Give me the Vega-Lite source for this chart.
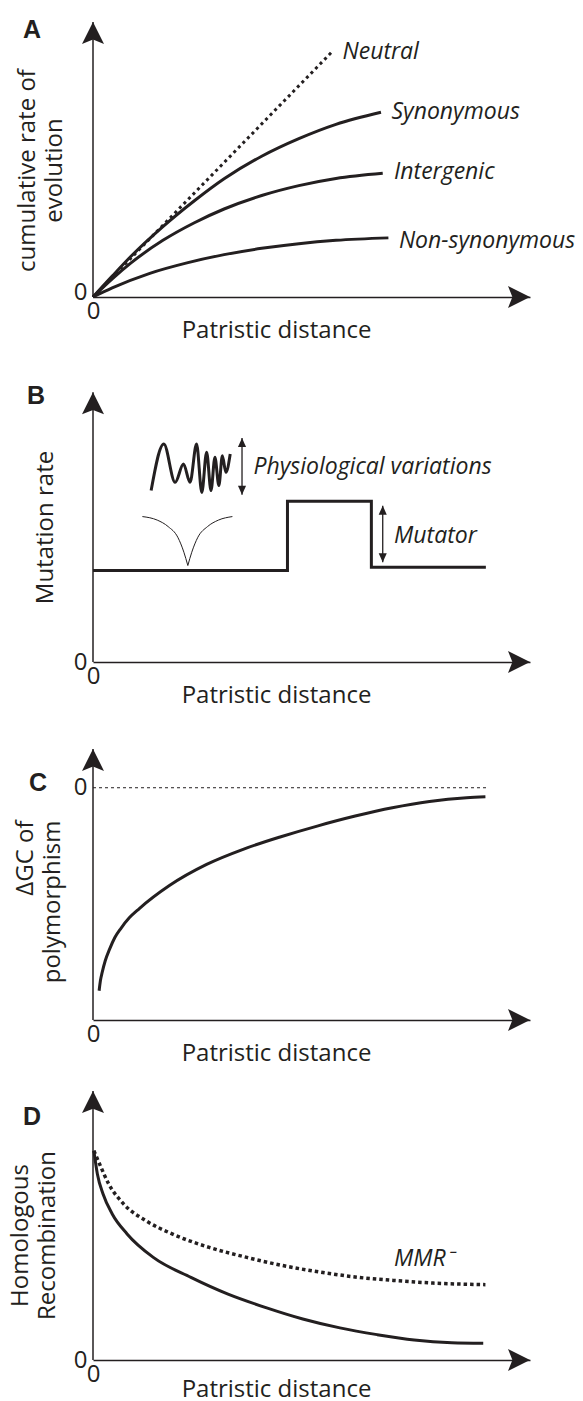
{
  "$schema": "https://vega.github.io/schema/vega-lite/v6.json",
  "autosize": {"type": "pad"},
  "padding": {"left": 8, "top": 18, "right": 0, "bottom": 4},
  "background": "white",
  "spacing": 70,
  "bounds": "flush",
  "config": {
    "view": {"stroke": null},
    "font": "Open Sans",
    "axis": {
      "grid": false, "ticks": false, "labelFontSize": 24, "labelColor": "#231f20",
      "titleColor": "#231f20", "titleFontSize": 24, "titleFontWeight": "normal",
      "labelFlush": false, "labelFont": "Open Sans", "titleFont": "Open Sans",
      "domainColor": "#231f20", "domainWidth": 1.5, "labelOverlap": false
    },
    "axisX": {"domain": true, "labelPadding": 2, "titleBaseline": "alphabetic", "titleAlign": "center", "labelAngle": 0},
    "axisY": {"domain": false, "labelPadding": 6, "labelBaseline": "middle", "titleAngle": -90, "titleAlign": "center", "titleBaseline": "top", "titleLineHeight": 27},
    "title": {"font": "Liberation Sans", "fontWeight": "bold", "fontSize": 25, "color": "#231f20", "anchor": "start", "frame": "group", "offset": 0, "baseline": "top"},
    "text": {"font": "Open Sans", "fontStyle": "italic", "fontSize": 23, "align": "left", "baseline": "middle", "color": "#231f20"}
  },
  "datasets": {
    "a": [
      {"k": "yaxis", "x": 0, "y": 0, "y2": 100},
      {"k": "yarrow", "x": 0, "y": 100},
      {"k": "xarrow", "x": 100, "y": 0},
      {"k": "neutral", "s": "Neutral", "x": 0, "y": 0},
      {"k": "neutral", "s": "Neutral", "x": 54.9, "y": 89.5},
      {"k": "curve", "s": "Synonymous", "x": 0, "y": 0},
      {"k": "curve", "s": "Synonymous", "x": 4.4, "y": 7.6},
      {"k": "curve", "s": "Synonymous", "x": 8.7, "y": 14.8},
      {"k": "curve", "s": "Synonymous", "x": 16.0, "y": 25.6},
      {"k": "curve", "s": "Synonymous", "x": 23.2, "y": 35.0},
      {"k": "curve", "s": "Synonymous", "x": 30.0, "y": 43.0},
      {"k": "curve", "s": "Synonymous", "x": 38.6, "y": 51.2},
      {"k": "curve", "s": "Synonymous", "x": 47.1, "y": 57.6},
      {"k": "curve", "s": "Synonymous", "x": 55.6, "y": 62.8},
      {"k": "curve", "s": "Synonymous", "x": 65.9, "y": 67.2},
      {"k": "curve", "s": "Intergenic", "x": 0, "y": 0},
      {"k": "curve", "s": "Intergenic", "x": 4.4, "y": 6.6},
      {"k": "curve", "s": "Intergenic", "x": 8.7, "y": 12.4},
      {"k": "curve", "s": "Intergenic", "x": 16.0, "y": 20.6},
      {"k": "curve", "s": "Intergenic", "x": 23.2, "y": 27.0},
      {"k": "curve", "s": "Intergenic", "x": 30.0, "y": 32.0},
      {"k": "curve", "s": "Intergenic", "x": 38.6, "y": 36.9},
      {"k": "curve", "s": "Intergenic", "x": 47.1, "y": 40.5},
      {"k": "curve", "s": "Intergenic", "x": 55.6, "y": 43.1},
      {"k": "curve", "s": "Intergenic", "x": 66.3, "y": 45.0},
      {"k": "curve", "s": "Non-synonymous", "x": 0, "y": 0},
      {"k": "curve", "s": "Non-synonymous", "x": 4.4, "y": 3.3},
      {"k": "curve", "s": "Non-synonymous", "x": 13.0, "y": 8.6},
      {"k": "curve", "s": "Non-synonymous", "x": 21.5, "y": 12.4},
      {"k": "curve", "s": "Non-synonymous", "x": 30.0, "y": 15.4},
      {"k": "curve", "s": "Non-synonymous", "x": 38.6, "y": 17.7},
      {"k": "curve", "s": "Non-synonymous", "x": 47.1, "y": 19.4},
      {"k": "curve", "s": "Non-synonymous", "x": 55.6, "y": 20.6},
      {"k": "curve", "s": "Non-synonymous", "x": 67.6, "y": 21.5},
      {"k": "label", "t": "Neutral", "x": 57.1, "y": 89.0},
      {"k": "label", "t": "Synonymous", "x": 68.3, "y": 67.2},
      {"k": "label", "t": "Intergenic", "x": 68.9, "y": 45.3},
      {"k": "label", "t": "Non-synonymous", "x": 70.0, "y": 20.5}
    ],
    "b": [
      {"k": "yaxis", "x": 0, "y": 0, "y2": 91.4},
      {"k": "yarrow", "x": 0, "y": 91.4},
      {"k": "xarrow", "x": 100, "y": 0},
      {"k": "step", "i": 1, "x": 0, "y": 31.0},
      {"k": "step", "i": 2, "x": 44.5, "y": 31.0},
      {"k": "step", "i": 3, "x": 44.5, "y": 54.5},
      {"k": "step", "i": 4, "x": 63.7, "y": 54.5},
      {"k": "step", "i": 5, "x": 63.7, "y": 32.1},
      {"k": "step", "i": 6, "x": 89.9, "y": 32.1},
      {"k": "wiggle", "x": 13.3, "y": 58.1},
      {"k": "wiggle", "x": 16.2, "y": 73.9},
      {"k": "wiggle", "x": 18.8, "y": 60.9},
      {"k": "wiggle", "x": 20.7, "y": 67.1},
      {"k": "wiggle", "x": 22.2, "y": 60.9},
      {"k": "wiggle", "x": 23.7, "y": 73.9},
      {"k": "wiggle", "x": 24.9, "y": 57.5},
      {"k": "wiggle", "x": 26.0, "y": 71.1},
      {"k": "wiggle", "x": 27.0, "y": 58.1},
      {"k": "wiggle", "x": 27.9, "y": 69.4},
      {"k": "wiggle", "x": 28.8, "y": 59.8},
      {"k": "wiggle", "x": 29.6, "y": 69.9},
      {"k": "wiggle", "x": 30.4, "y": 64.3},
      {"k": "wiggle", "x": 31.4, "y": 70.5},
      {"k": "arc", "s": "left", "x": 11.3, "y": 49.3},
      {"k": "arc", "s": "left", "x": 14.7, "y": 48.1},
      {"k": "arc", "s": "left", "x": 17.2, "y": 45.9},
      {"k": "arc", "s": "left", "x": 19.4, "y": 42.3},
      {"k": "arc", "s": "left", "x": 20.8, "y": 37.2},
      {"k": "arc", "s": "left", "x": 21.7, "y": 32.7},
      {"k": "arc", "s": "right", "x": 21.7, "y": 32.7},
      {"k": "arc", "s": "right", "x": 22.6, "y": 37.2},
      {"k": "arc", "s": "right", "x": 24.0, "y": 42.3},
      {"k": "arc", "s": "right", "x": 26.2, "y": 45.9},
      {"k": "arc", "s": "right", "x": 28.7, "y": 48.1},
      {"k": "arc", "s": "right", "x": 31.9, "y": 49.3},
      {"k": "dbl", "x": 34.1, "y": 56.7, "y2": 75.9},
      {"k": "up", "x": 34.1, "y": 75.9},
      {"k": "down", "x": 34.1, "y": 56.7},
      {"k": "dbl", "x": 66.3, "y": 33.8, "y2": 53.0},
      {"k": "up", "x": 66.3, "y": 53.0},
      {"k": "down", "x": 66.3, "y": 33.8},
      {"k": "label", "t": "Physiological variations", "x": 36.7, "y": 66.2},
      {"k": "label", "t": "Mutator", "x": 68.9, "y": 42.8}
    ],
    "c": [
      {"k": "yaxis", "x": 0, "y": -100, "y2": 16.7},
      {"k": "yarrow", "x": 0, "y": 16.7},
      {"k": "xarrow", "x": 100, "y": -100},
      {"k": "zero", "x": 0, "y": 0},
      {"k": "zero", "x": 90.6, "y": 0},
      {"k": "curve", "x": 1.4, "y": -87.4},
      {"k": "curve", "x": 1.7, "y": -83.0},
      {"k": "curve", "x": 2.1, "y": -79.5},
      {"k": "curve", "x": 2.8, "y": -74.5},
      {"k": "curve", "x": 3.8, "y": -69.5},
      {"k": "curve", "x": 5.0, "y": -64.5},
      {"k": "curve", "x": 6.4, "y": -60.5},
      {"k": "curve", "x": 8.3, "y": -56.0},
      {"k": "curve", "x": 10.6, "y": -52.0},
      {"k": "curve", "x": 17.4, "y": -42.2},
      {"k": "curve", "x": 26.0, "y": -33.0},
      {"k": "curve", "x": 34.5, "y": -26.4},
      {"k": "curve", "x": 43.0, "y": -21.1},
      {"k": "curve", "x": 51.5, "y": -16.4},
      {"k": "curve", "x": 60.0, "y": -12.2},
      {"k": "curve", "x": 68.5, "y": -8.6},
      {"k": "curve", "x": 77.0, "y": -5.9},
      {"k": "curve", "x": 85.5, "y": -4.3},
      {"k": "curve", "x": 89.8, "y": -3.9}
    ],
    "d": [
      {"k": "yaxis", "x": 0, "y": 0, "y2": 99.6},
      {"k": "yarrow", "x": 0, "y": 99.6},
      {"k": "xarrow", "x": 100, "y": 0},
      {"k": "solid", "x": 0.2, "y": 77.5},
      {"k": "solid", "x": 1.0, "y": 68.9},
      {"k": "solid", "x": 2.3, "y": 61.5},
      {"k": "solid", "x": 4.4, "y": 54.1},
      {"k": "solid", "x": 7.8, "y": 46.7},
      {"k": "solid", "x": 13.8, "y": 38.0},
      {"k": "solid", "x": 22.4, "y": 30.6},
      {"k": "solid", "x": 30.9, "y": 24.4},
      {"k": "solid", "x": 39.4, "y": 19.5},
      {"k": "solid", "x": 48.0, "y": 15.2},
      {"k": "solid", "x": 56.5, "y": 11.9},
      {"k": "solid", "x": 65.0, "y": 9.4},
      {"k": "solid", "x": 73.5, "y": 7.4},
      {"k": "solid", "x": 82.1, "y": 6.4},
      {"k": "solid", "x": 89.3, "y": 6.2},
      {"k": "dotted", "x": 0.2, "y": 77.5},
      {"k": "dotted", "x": 1.5, "y": 72.6},
      {"k": "dotted", "x": 3.6, "y": 65.2},
      {"k": "dotted", "x": 7.0, "y": 57.8},
      {"k": "dotted", "x": 12.1, "y": 51.6},
      {"k": "dotted", "x": 18.1, "y": 46.7},
      {"k": "dotted", "x": 26.6, "y": 41.7},
      {"k": "dotted", "x": 35.2, "y": 38.0},
      {"k": "dotted", "x": 43.7, "y": 34.9},
      {"k": "dotted", "x": 52.2, "y": 32.5},
      {"k": "dotted", "x": 60.8, "y": 30.6},
      {"k": "dotted", "x": 69.3, "y": 29.4},
      {"k": "dotted", "x": 77.8, "y": 28.5},
      {"k": "dotted", "x": 89.8, "y": 27.9},
      {"k": "label", "t": "MMR⁻", "x": 68.9, "y": 37.4}
    ]
  },
  "vconcat": [
    {
      "width": 437, "height": 275,
      "title": {"text": "A", "dx": -70, "dy": 26},
      "data": {"name": "a"},
      "encoding": {
        "x": {"field": "x", "type": "quantitative", "scale": {"domain": [0, 100], "nice": false, "zero": false},
              "axis": {"title": "Patristic distance", "values": [0], "titleX": 183, "titleY": 40}},
        "y": {"field": "y", "type": "quantitative", "scale": {"domain": [0, 100], "nice": false, "zero": false},
              "axis": {"title": ["cumulative rate of", "evolution"], "values": [0], "labelOffset": -5, "titleX": -78, "titleY": 148}}
      },
      "layer": [
        {"transform": [{"filter": "datum.k == 'yaxis'"}], "mark": {"type": "rule", "strokeWidth": 1.5, "color": "#231f20"}, "encoding": {"y2": {"field": "y2"}}},
        {"transform": [{"filter": "datum.k == 'yarrow'"}], "mark": {"type": "point", "shape": "M0,0L0.5,1L0,0.8L-0.5,1Z", "size": 1936, "filled": true, "opacity": 1, "color": "#231f20", "strokeWidth": 0}},
        {"transform": [{"filter": "datum.k == 'xarrow'"}], "mark": {"type": "point", "shape": "M0,0L-1,0.5L-0.8,0L-1,-0.5Z", "size": 1936, "filled": true, "opacity": 1, "color": "#231f20", "strokeWidth": 0}},
        {"transform": [{"filter": "datum.k == 'neutral'"}], "mark": {"type": "line", "strokeWidth": 3, "strokeDash": [3, 3.5], "color": "#231f20"}},
        {"transform": [{"filter": "datum.k == 'curve'"}], "mark": {"type": "line", "interpolate": "monotone", "strokeWidth": 3, "color": "#231f20"}, "encoding": {"detail": {"field": "s"}}},
        {"transform": [{"filter": "datum.k == 'label'"}], "mark": {"type": "text"}, "encoding": {"text": {"field": "t"}}}
      ]
    },
    {
      "width": 437, "height": 295,
      "title": {"text": "B", "dx": -66, "dy": 46},
      "data": {"name": "b"},
      "encoding": {
        "x": {"field": "x", "type": "quantitative", "scale": {"domain": [0, 100], "nice": false, "zero": false},
              "axis": {"title": "Patristic distance", "values": [0], "titleX": 183, "titleY": 40}},
        "y": {"field": "y", "type": "quantitative", "scale": {"domain": [0, 100], "nice": false, "zero": false},
              "axis": {"title": "Mutation rate", "values": [0], "titleX": -60, "titleY": 160}}
      },
      "layer": [
        {"transform": [{"filter": "datum.k == 'yaxis'"}], "mark": {"type": "rule", "strokeWidth": 1.5, "color": "#231f20"}, "encoding": {"y2": {"field": "y2"}}},
        {"transform": [{"filter": "datum.k == 'yarrow'"}], "mark": {"type": "point", "shape": "M0,0L0.5,1L0,0.8L-0.5,1Z", "size": 1936, "filled": true, "opacity": 1, "color": "#231f20", "strokeWidth": 0}},
        {"transform": [{"filter": "datum.k == 'xarrow'"}], "mark": {"type": "point", "shape": "M0,0L-1,0.5L-0.8,0L-1,-0.5Z", "size": 1936, "filled": true, "opacity": 1, "color": "#231f20", "strokeWidth": 0}},
        {"transform": [{"filter": "datum.k == 'step'"}], "mark": {"type": "line", "strokeWidth": 3, "color": "#231f20", "strokeJoin": "miter"}, "encoding": {"order": {"field": "i"}}},
        {"transform": [{"filter": "datum.k == 'wiggle'"}], "mark": {"type": "line", "interpolate": "monotone", "strokeWidth": 3, "color": "#231f20"}},
        {"transform": [{"filter": "datum.k == 'arc'"}], "mark": {"type": "line", "interpolate": "monotone", "strokeWidth": 1, "color": "#231f20"}, "encoding": {"detail": {"field": "s"}}},
        {"transform": [{"filter": "datum.k == 'dbl'"}], "mark": {"type": "rule", "strokeWidth": 1.3, "color": "#231f20"}, "encoding": {"y2": {"field": "y2"}}},
        {"transform": [{"filter": "datum.k == 'up'"}], "mark": {"type": "point", "shape": "M0,0L0.45,1L-0.45,1Z", "size": 324, "filled": true, "opacity": 1, "color": "#231f20", "strokeWidth": 0}},
        {"transform": [{"filter": "datum.k == 'down'"}], "mark": {"type": "point", "shape": "M0,0L0.45,-1L-0.45,-1Z", "size": 324, "filled": true, "opacity": 1, "color": "#231f20", "strokeWidth": 0}},
        {"transform": [{"filter": "datum.k == 'label'"}], "mark": {"type": "text"}, "encoding": {"text": {"field": "t"}}}
      ]
    },
    {
      "width": 437, "height": 288,
      "title": {"text": "C", "dx": -64, "dy": 68},
      "data": {"name": "c"},
      "encoding": {
        "x": {"field": "x", "type": "quantitative", "scale": {"domain": [0, 100], "nice": false, "zero": false},
              "axis": {"title": "Patristic distance", "values": [0], "titleX": 183, "titleY": 40}},
        "y": {"field": "y", "type": "quantitative", "scale": {"domain": [-100, 24], "nice": false, "zero": false},
              "axis": {"title": ["ΔGC of", "polymorphism"], "values": [0], "titleX": -80, "titleY": 88, "titleAlign": "right"}}
      },
      "layer": [
        {"transform": [{"filter": "datum.k == 'yaxis'"}], "mark": {"type": "rule", "strokeWidth": 1.5, "color": "#231f20"}, "encoding": {"y2": {"field": "y2"}}},
        {"transform": [{"filter": "datum.k == 'yarrow'"}], "mark": {"type": "point", "shape": "M0,0L0.5,1L0,0.8L-0.5,1Z", "size": 1936, "filled": true, "opacity": 1, "color": "#231f20", "strokeWidth": 0}},
        {"transform": [{"filter": "datum.k == 'xarrow'"}], "mark": {"type": "point", "shape": "M0,0L-1,0.5L-0.8,0L-1,-0.5Z", "size": 1936, "filled": true, "opacity": 1, "color": "#231f20", "strokeWidth": 0}},
        {"transform": [{"filter": "datum.k == 'zero'"}], "mark": {"type": "line", "strokeWidth": 1, "strokeDash": [3, 3], "color": "#231f20"}},
        {"transform": [{"filter": "datum.k == 'curve'"}], "mark": {"type": "line", "interpolate": "monotone", "strokeWidth": 3, "color": "#231f20"}}
      ]
    },
    {
      "width": 437, "height": 270,
      "title": {"text": "D", "dx": -70, "dy": 44},
      "data": {"name": "d"},
      "encoding": {
        "x": {"field": "x", "type": "quantitative", "scale": {"domain": [0, 100], "nice": false, "zero": false},
              "axis": {"title": "Patristic distance", "values": [0], "titleX": 183, "titleY": 36}},
        "y": {"field": "y", "type": "quantitative", "scale": {"domain": [0, 100], "nice": false, "zero": false},
              "axis": {"title": ["Homologous", "Recombination"], "values": [0], "titleX": -85, "titleY": 145}}
      },
      "layer": [
        {"transform": [{"filter": "datum.k == 'yaxis'"}], "mark": {"type": "rule", "strokeWidth": 1.5, "color": "#231f20"}, "encoding": {"y2": {"field": "y2"}}},
        {"transform": [{"filter": "datum.k == 'yarrow'"}], "mark": {"type": "point", "shape": "M0,0L0.5,1L0,0.8L-0.5,1Z", "size": 1936, "filled": true, "opacity": 1, "color": "#231f20", "strokeWidth": 0}},
        {"transform": [{"filter": "datum.k == 'xarrow'"}], "mark": {"type": "point", "shape": "M0,0L-1,0.5L-0.8,0L-1,-0.5Z", "size": 1936, "filled": true, "opacity": 1, "color": "#231f20", "strokeWidth": 0}},
        {"transform": [{"filter": "datum.k == 'dotted'"}], "mark": {"type": "line", "interpolate": "monotone", "strokeWidth": 3.5, "strokeDash": [3.5, 3], "color": "#231f20"}},
        {"transform": [{"filter": "datum.k == 'solid'"}], "mark": {"type": "line", "interpolate": "monotone", "strokeWidth": 3, "color": "#231f20"}},
        {"transform": [{"filter": "datum.k == 'label'"}], "mark": {"type": "text"}, "encoding": {"text": {"field": "t"}}}
      ]
    }
  ]
}
